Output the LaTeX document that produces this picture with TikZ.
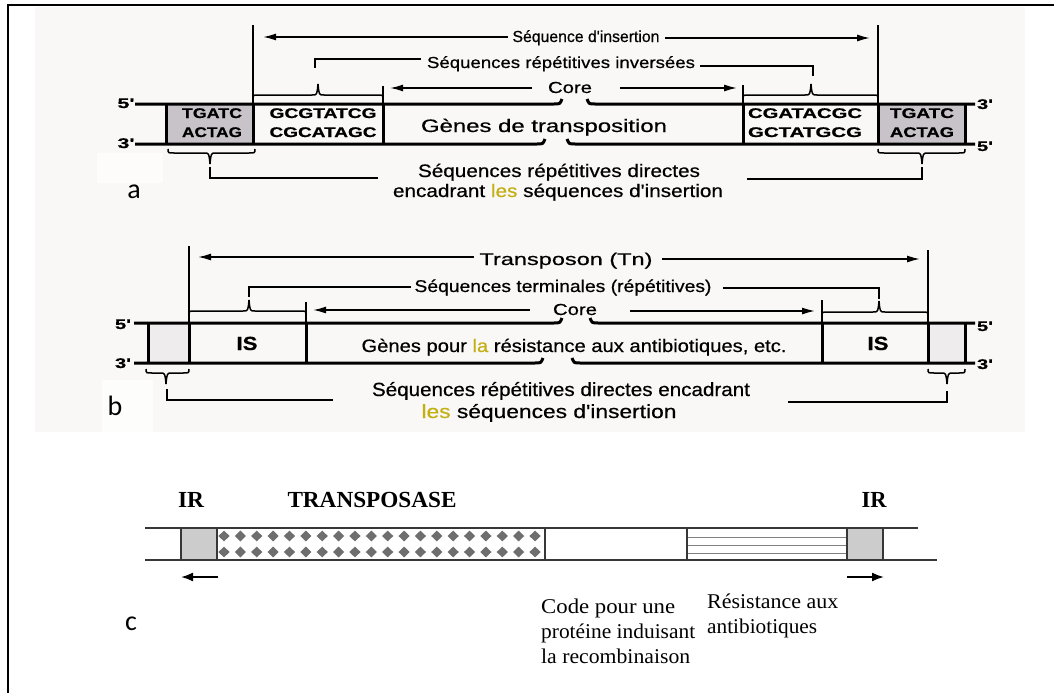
\documentclass[tikz,border=0pt]{standalone}
\usepackage{fontspec}
\usepackage{graphicx}
\setmainfont{Liberation Sans}
\newfontfamily\hv[FakeBold=0.5]{Liberation Sans}
\newfontfamily\tms{Liberation Serif}
\newfontfamily\clb{Carlito}
\usetikzlibrary{arrows.meta,calc}
\newsavebox\fwbox
\newlength\fwlen
\newcommand\fw[2]{\sbox\fwbox{#2}\setlength\fwlen{\wd\fwbox}\pgfmathsetmacro\fwr{#1/\fwlen}\scalebox{\fwr}[1]{\usebox\fwbox}}
\definecolor{bgc}{RGB}{249,248,246}
\definecolor{boxa}{RGB}{200,195,200}
\definecolor{boxb}{RGB}{238,236,236}
\definecolor{gold}{RGB}{195,175,20}
\definecolor{irg}{RGB}{204,204,204}
\definecolor{dmc}{RGB}{110,110,110}
\definecolor{cln}{RGB}{55,55,55}
\newcommand\brc[5]{\draw[ln] ({#1},{#4+4*(#5)}) .. controls ({#1},{#4}) .. ({#1+6},{#4}) -- ({#2-6},{#4}) .. controls ({#2-1},{#4}) .. ({#2},{#4-11*(#5)}) .. controls ({#2+1},{#4}) .. ({#2+6},{#4}) -- ({#3-6},{#4}) .. controls ({#3},{#4}) .. ({#3},{#4+4*(#5)});}
\tikzset{
  strand/.style={line width=3pt},
  ln/.style={line width=1.5pt},
  arr/.style={ln,-{Latex[length=13pt,width=7pt]}},
  lab/.style={inner sep=0pt, anchor=base},
  fs/.style={font=\hv\fontsize{#1}{#1}\selectfont},
  fb/.style={font=\hv\bfseries\fontsize{#1}{#1}\selectfont},
  ft/.style={font=\tms\fontsize{#1}{#1}\selectfont},
  ftb/.style={font=\tms\bfseries\fontsize{#1}{#1}\selectfont},
  fc/.style={font=\clb\fontsize{#1}{#1}\selectfont},
  cl/.style={draw=cln, line width=1.4pt},
}
\begin{document}
\begin{tikzpicture}[x=1pt,y=-1pt]
\useasboundingbox (0,0) rectangle (1054,693);
% backgrounds and frame
\fill[bgc] (35,7) rectangle (1025,432);
\fill[white!60!bgc] (97,153) rectangle (163,183);
\fill[white!70!bgc] (102,380) rectangle (153,432);
\draw[line width=2pt] (8,693) -- (8,5) -- (1054,5);

% ================= panel a =================
\fill[boxa] (166,104) rectangle (253,144);
\fill[boxa] (878,104) rectangle (965,144);
\draw[strand] (135,104) -- (554,104) .. controls (560,104) .. (562,99);
\draw[strand] (587,99) .. controls (589,104) .. (595,104) -- (975,104);
\draw[strand] (135,144) -- (537,144) .. controls (543,144) .. (545,139);
\draw[strand] (567,139) .. controls (569,144) .. (575,144) -- (975,144);
\foreach \x in {166,253,383,743,878,965} \draw[strand] (\x,104) -- (\x,144);
\draw[ln] (253,25) -- (253,104);
\draw[ln] (878,25) -- (878,104);
\draw[ln] (383,86) -- (383,104);
\draw[ln] (743,85) -- (743,104);

\node[lab,fb=14] (a5l) at (126,108) {\fw{17}{5'}};
\node[lab,fb=14] (a3l) at (126,148) {\fw{17}{3'}};
\node[lab,fb=14] (a3r) at (985,109) {\fw{16}{3'}};
\node[lab,fb=14] (a5r) at (985,151) {\fw{16}{5'}};

\node[lab,fs=16] (ains) at (586,42) {\fw{147}{Séquence d'insertion}};
\coordinate (ai1) at (508,37); \coordinate (ai2) at (263,37);
\coordinate (ai3) at (665,38); \coordinate (ai4) at (870,38);
\draw[arr] (ai1) -- (ai2);
\draw[arr] (ai3) -- (ai4);

\node[lab,fs=16] (ainv) at (561,68) {\fw{268}{Séquences répétitives inversées}};
\coordinate (av1) at (421,59); \coordinate (av2) at (315,59); \coordinate (av3) at (315,68);
\coordinate (av4) at (700,66); \coordinate (av5) at (813,66); \coordinate (av6) at (813,76);
\draw[ln] (av1) -- (av2) -- (av3);
\draw[ln] (av4) -- (av5) -- (av6);
\brc{253}{318}{383}{95}{1}
\brc{743}{811}{878}{95}{1}

\node[lab,fs=16] (acore) at (570,93) {\fw{44}{Core}};
\coordinate (ac1) at (532,88); \coordinate (ac2) at (390,88);
\coordinate (ac3) at (620,88); \coordinate (ac4) at (737,88);
\draw[arr] (ac1) -- (ac2);
\draw[arr] (ac3) -- (ac4);

\node[lab,fb=14] (as1) at (212,118) {\fw{60}{TGATC}};
\node[lab,fb=14] (as2) at (212,137) {\fw{60}{ACTAG}};
\node[lab,fb=14] (as3) at (323,118) {\fw{107}{GCGTATCG}};
\node[lab,fb=14] (as4) at (323,137) {\fw{107}{CGCATAGC}};
\node[lab,fb=14] (as5) at (805,118) {\fw{114}{CGATACGC}};
\node[lab,fb=14] (as6) at (805,137) {\fw{114}{GCTATGCG}};
\node[lab,fb=14] (as7) at (922,118) {\fw{64}{TGATC}};
\node[lab,fb=14] (as8) at (922,137) {\fw{64}{ACTAG}};
\node[lab,fs=18] (agen) at (544,132) {\fw{246}{Gènes de transposition}};

\brc{168}{210}{255}{153}{-1}
\brc{878}{922}{965}{153}{-1}
\coordinate (ad1) at (210,167); \coordinate (ad2) at (210,178); \coordinate (ad3) at (378,178);
\coordinate (ad4) at (922,167); \coordinate (ad5) at (922,179); \coordinate (ad6) at (747,179);
\draw[ln] (ad1) -- (ad2) -- (ad3);
\draw[ln] (ad4) -- (ad5) -- (ad6);
\node[lab,fs=18] (adir1) at (559,177) {\fw{282}{Séquences répétitives directes}};
\node[lab,fs=18] (adir2) at (558,197) {\fw{330}{encadrant \textcolor{gold}{les} séquences d'insertion}};
\node[lab,fc=28] (la) at (134,198) {a};

% ================= panel b =================
\fill[boxb] (148,323) rectangle (189,363);
\fill[boxb] (928,323) rectangle (965,363);
\draw[strand] (134,323) -- (554,323) .. controls (560,323) .. (562,318);
\draw[strand] (590,318) .. controls (592,323) .. (598,323) -- (975,323);
\draw[strand] (134,363) -- (535,363) .. controls (541,363) .. (543,358);
\draw[strand] (572,358) .. controls (574,363) .. (580,363) -- (975,363);
\foreach \x in {148,189,306,822,928,965} \draw[strand] (\x,323) -- (\x,363);
\draw[ln] (189,246) -- (189,323);
\draw[ln] (928,250) -- (928,323);
\draw[ln] (306,302) -- (306,323);
\draw[ln] (822,300) -- (822,323);

\node[lab,fb=14] (b5l) at (123,329) {\fw{16}{5'}};
\node[lab,fb=14] (b3l) at (123,368) {\fw{16}{3'}};
\node[lab,fb=14] (b5r) at (985,331) {\fw{16}{5'}};
\node[lab,fb=14] (b3r) at (985,369) {\fw{16}{3'}};

\node[lab,fs=17] (btn) at (566,265) {\fw{173}{Transposon (Tn)}};
\coordinate (bt1) at (474,257); \coordinate (bt2) at (198,257);
\coordinate (bt3) at (662,259); \coordinate (bt4) at (920,259);
\draw[arr] (bt1) -- (bt2);
\draw[arr] (bt3) -- (bt4);

\node[lab,fs=17] (bterm) at (563,292) {\fw{297}{Séquences terminales (répétitives)}};
\coordinate (bm1) at (411,287); \coordinate (bm2) at (249,287); \coordinate (bm3) at (249,297);
\coordinate (bm4) at (723,288); \coordinate (bm5) at (879,288); \coordinate (bm6) at (879,299);
\draw[ln] (bm1) -- (bm2) -- (bm3);
\draw[ln] (bm4) -- (bm5) -- (bm6);
\brc{189}{249}{306}{311}{1}
\brc{822}{879}{928}{312}{1}

\node[lab,fs=16] (bcore) at (575,315) {\fw{44}{Core}};
\coordinate (bc1) at (530,310); \coordinate (bc2) at (313,310);
\coordinate (bc3) at (630,311); \coordinate (bc4) at (815,311);
\draw[arr] (bc1) -- (bc2);
\draw[arr] (bc3) -- (bc4);

\node[lab,fb=19] (bis1) at (247,350) {\fw{21}{IS}};
\node[lab,fb=19] (bis2) at (878,350) {\fw{21}{IS}};
\node[lab,fs=18] (bgen) at (574,352) {\fw{425}{Gènes pour \textcolor{gold}{la} résistance aux antibiotiques, etc.}};

\brc{146}{166}{189}{373}{-1}
\brc{928}{947}{965}{373}{-1}
\coordinate (bd1) at (167,389); \coordinate (bd2) at (167,400); \coordinate (bd3) at (333,400);
\coordinate (bd4) at (947,391); \coordinate (bd5) at (947,402); \coordinate (bd6) at (788,402);
\draw[ln] (bd1) -- (bd2) -- (bd3);
\draw[ln] (bd4) -- (bd5) -- (bd6);
\node[lab,fs=19] (bdir1) at (561,396) {\fw{378}{Séquences répétitives directes encadrant}};
\node[lab,fs=19] (bdir2) at (549,418) {\fw{255}{\textcolor{gold}{les} séquences d'insertion}};
\node[lab,fc=28] (lb) at (115,415) {b};

% ================= panel c =================
\draw[cl] (145,528) -- (918,528);
\draw[cl] (145,560) -- (937,560);
\foreach \yy in {537,545,553} \draw[line width=0.7pt, draw=gray] (687,\yy) -- (847,\yy);
\foreach \i in {0,...,19} {
  \foreach \yy in {536,552} {
    \fill[dmc] ({224+16.37*\i},\yy) +(-5.6,0) -- +(0,-5.4) -- +(5.6,0) -- +(0,5.4) -- cycle;
  }
}
\filldraw[cl, fill=irg] (181,528) rectangle (217,560);
\filldraw[cl, fill=irg] (847,528) rectangle (883,560);
\draw[cl] (545,528) -- (545,560);
\draw[cl] (687,528) -- (687,560);

\node[lab,ftb=23] (cir1) at (191,507) {\fw{26}{IR}};
\node[lab,ftb=23] (ctr) at (372,507) {\fw{169}{TRANSPOSASE}};
\node[lab,ftb=23] (cir2) at (874,507) {\fw{25}{IR}};
\coordinate (ca1) at (218,577); \coordinate (ca2) at (181,577);
\coordinate (ca3) at (847,577); \coordinate (ca4) at (884,577);
\draw[line width=1.8pt, -{Latex[length=12pt,width=9pt]}] (ca1) -- (ca2);
\draw[line width=1.8pt, -{Latex[length=12pt,width=9pt]}] (ca3) -- (ca4);

\node[lab,ft=21,anchor=base west] (cc1) at (541,613) {\fw{134}{Code pour une}};
\node[lab,ft=21,anchor=base west] (cc2) at (541,638) {\fw{154}{protéine induisant}};
\node[lab,ft=21,anchor=base west] (cc3) at (541,663) {\fw{149}{la recombinaison}};
\node[lab,ft=21,anchor=base west] (cr1) at (707,608) {\fw{131}{Résistance aux}};
\node[lab,ft=21,anchor=base west] (cr2) at (707,633) {\fw{110}{antibiotiques}};
\node[lab,fc=28] (lc) at (131,630) {c};
\end{tikzpicture}
\end{document}
